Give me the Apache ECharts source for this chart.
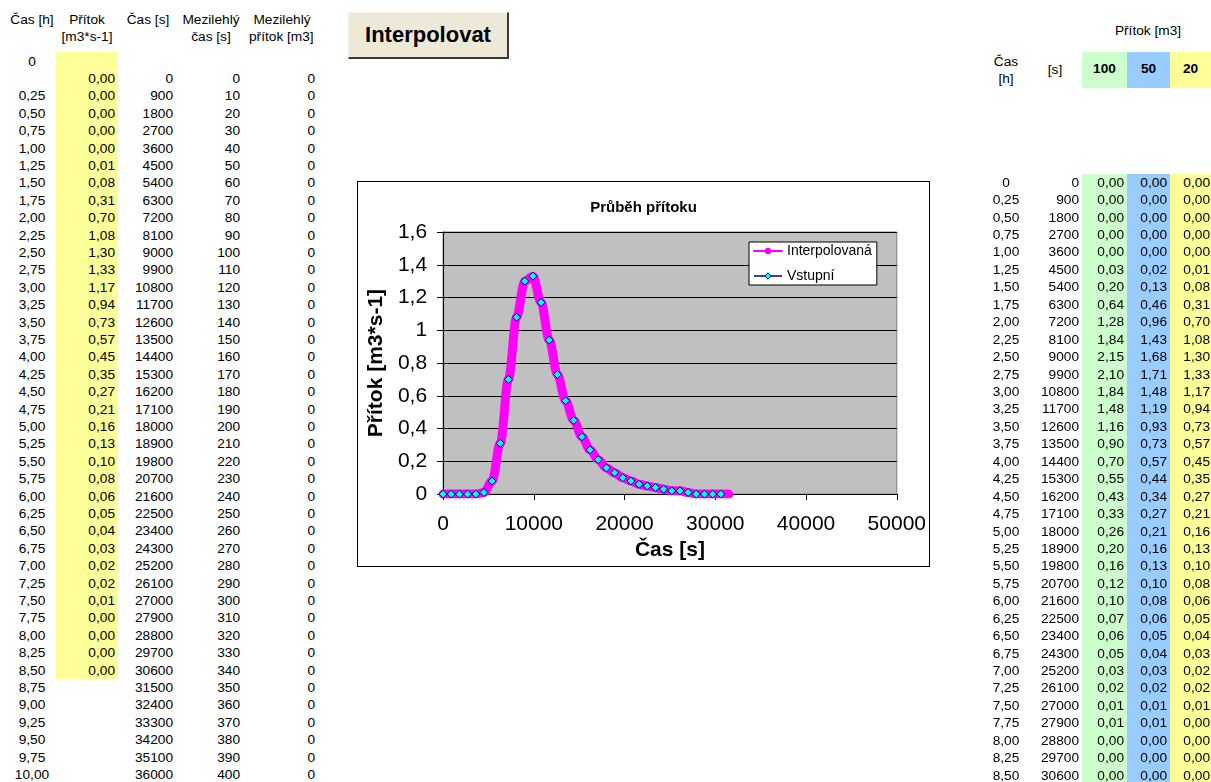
<!DOCTYPE html>
<html><head><meta charset="utf-8">
<script src="https://cdn.jsdelivr.net/npm/echarts@6/dist/echarts.min.js"></script>
<style>
html,body{margin:0;padding:0;}
body{width:1211px;height:782px;position:relative;overflow:hidden;background:#fff;font-family:'Liberation Sans',Arial,sans-serif;font-size:13.7px;color:#000;}
.t{position:absolute;white-space:nowrap;line-height:16px;height:16px;}
.bg{position:absolute;}
#btn{position:absolute;left:348px;top:12px;width:158px;height:44px;background:#ECE9D8;border-top:1px solid #F4F2EA;border-left:1px solid #F4F2EA;border-right:2px solid #3a3a3a;border-bottom:2px solid #3a3a3a;font-weight:bold;font-size:22px;line-height:44px;text-align:center;}
#chartBox{position:absolute;left:357px;top:181px;width:571px;height:384px;border:1px solid #000;background:#fff;}
#chart{width:571px;height:384px;}
</style></head><body>
<div id="btn">Interpolovat</div>
<div id="chartBox"><div id="chart"></div></div>
<script>
// ---- data ----
const leftHours = ['0','0,25','0,50','0,75','1,00','1,25','1,50','1,75','2,00','2,25','2,50','2,75','3,00','3,25','3,50','3,75','4,00','4,25','4,50','4,75','5,00','5,25','5,50','5,75','6,00','6,25','6,50','6,75','7,00','7,25','7,50','7,75','8,00','8,25','8,50','8,75','9,00','9,25','9,50','9,75','10,00'];
const leftSeconds = [0,900,1800,2700,3600,4500,5400,6300,7200,8100,9000,9900,10800,11700,12600,13500,14400,15300,16200,17100,18000,18900,19800,20700,21600,22500,23400,24300,25200,26100,27000,27900,28800,29700,30600,31500,32400,33300,34200,35100,36000];
const inflow = [0,0,0,0,0,0.01,0.08,0.31,0.70,1.08,1.30,1.33,1.17,0.94,0.73,0.57,0.45,0.35,0.27,0.21,0.16,0.13,0.10,0.08,0.06,0.05,0.04,0.03,0.02,0.02,0.01,0,0,0,0];
const midTime = [0,10,20,30,40,50,60,70,80,90,100,110,120,130,140,150,160,170,180,190,200,210,220,230,240,250,260,270,280,290,300,310,320,330,340,350,360,370,380,390,400];
const midFlow = [0,0,0,0,0,0,0,0,0,0,0,0,0,0,0,0,0,0,0,0,0,0,0,0,0,0,0,0,0,0,0,0,0,0,0,0,0,0,0,0,0];
const interpFlow = [0,0,0,0,0,0.01,0.08,0.31,0.70,1.08,1.30,1.33,1.17,0.94,0.73,0.57,0.45,0.35,0.27,0.21,0.16,0.13,0.10,0.08,0.06,0.05,0.04,0.03,0.02,0.02,0.01,0,0,0,0,0];

const rightHours = ['0','0,25','0,50','0,75','1,00','1,25','1,50','1,75','2,00','2,25','2,50','2,75','3,00','3,25','3,50','3,75','4,00','4,25','4,50','4,75','5,00','5,25','5,50','5,75','6,00','6,25','6,50','6,75','7,00','7,25','7,50','7,75','8,00','8,25','8,50'];
const rightSeconds = [0,900,1800,2700,3600,4500,5400,6300,7200,8100,9000,9900,10800,11700,12600,13500,14400,15300,16200,17100,18000,18900,19800,20700,21600,22500,23400,24300,25200,26100,27000,27900,28800,29700,30600];
const flow100 = [0,0,0,0,0,0.03,0.20,0.64,1.28,1.84,2.15,2.10,1.84,1.48,1.16,0.90,0.70,0.55,0.43,0.33,0.26,0.20,0.16,0.12,0.10,0.07,0.06,0.05,0.03,0.02,0.01,0.01,0,0,0];
const flow50 = [0,0,0,0,0,0.02,0.13,0.46,0.96,1.43,1.68,1.71,1.48,1.19,0.93,0.73,0.57,0.44,0.34,0.27,0.21,0.16,0.13,0.10,0.08,0.06,0.05,0.04,0.03,0.02,0.01,0.01,0,0,0];
const flow20 = [0,0,0,0,0,0.01,0.08,0.31,0.70,1.08,1.30,1.33,1.17,0.94,0.73,0.57,0.45,0.35,0.27,0.21,0.16,0.13,0.10,0.08,0.06,0.05,0.04,0.03,0.02,0.02,0.01,0,0,0,0];
const volumes = ['100','50','20'];

// ---- sheet text ----
const W = 1211;
function fmt2(v){ return v.toFixed(2).replace('.', ','); }
function put(text, x, y, align, extra){
  const d = document.createElement('div');
  d.className = 't';
  d.textContent = text;
  d.style.top = (y - 8) + 'px';
  if (align === 'right') { d.style.right = (W - x) + 'px'; }
  else if (align === 'center') { d.style.left = (x - 100) + 'px'; d.style.width = '200px'; d.style.textAlign = 'center'; }
  else { d.style.left = x + 'px'; }
  if (extra) Object.assign(d.style, extra);
  document.body.appendChild(d);
  return d;
}
function rect(x, y, w, h, color){
  const d = document.createElement('div');
  d.className = 'bg';
  Object.assign(d.style, {left:x+'px', top:y+'px', width:w+'px', height:h+'px', background:color});
  document.body.appendChild(d);
}
// left table
const LROW0 = 79, STEP = 17.4;
rect(56, 52, 62, 627, '#FFFF99');
put('Čas [h]', 32, 20, 'center');
put('Přítok', 87, 20, 'center');
put('[m3*s-1]', 87, 37, 'center');
put('Čas [s]', 148, 20, 'center');
put('Mezilehlý', 211, 20, 'center');
put('čas [s]', 211, 37, 'center');
put('Mezilehlý', 282, 20, 'center');
put('přítok [m3]', 249, 37, 'left', {width:'67px', overflow:'hidden'});
leftHours.forEach((h, i) => {
  const row = i === 0 ? -1 : i;
  put(h, 32, LROW0 + row * STEP, 'center');
});
inflow.forEach((v, i) => put(fmt2(v), 115, LROW0 + i * STEP, 'right'));
leftSeconds.forEach((v, i) => put(String(v), 173, LROW0 + i * STEP, 'right'));
midTime.forEach((v, i) => put(String(v), 240, LROW0 + i * STEP, 'right'));
midFlow.forEach((v, i) => put(String(v), 315, LROW0 + i * STEP, 'right'));

// right table
const RROW0 = 182.7, RSTEP = 17.44;
const colX = [[1082,45,'#CCFFCC',1124],[1127,43,'#99CCFF',1167],[1170,41,'#FFFF99',1210]];
colX.forEach(c => { rect(c[0], 52, c[1], 36, c[2]); rect(c[0], 174, c[1], 608, c[2]); });
put('Přítok [m3]', 1148, 31, 'center');
put('Čas', 1006, 62, 'center');
put('[h]', 1006, 79, 'center');
put('[s]', 1055, 70, 'center');
volumes.forEach((v, k) => put(v, colX[k][0] + colX[k][1] / 2, 69, 'center', {fontWeight:'bold'}));
rightHours.forEach((h, i) => put(h, 1006, RROW0 + i * RSTEP, 'center'));
rightSeconds.forEach((v, i) => put(String(v), 1079, RROW0 + i * RSTEP, 'right'));
[flow100, flow50, flow20].forEach((arr, k) => arr.forEach((v, i) => put(fmt2(v), colX[k][3], RROW0 + i * RSTEP, 'right')));

// ---- chart ----
const FONT = 'Liberation Sans';
const chart = echarts.init(document.getElementById('chart'));
const interpData = interpFlow.map((v, i) => [leftSeconds[i], v]);
const inputData = inflow.map((v, i) => [leftSeconds[i], v]);
chart.setOption({
  animation: false,
  textStyle: {fontFamily: FONT, color: '#000'},
  title: {
    text: 'Průběh přítoku', left: 'center', top: 13,
    textStyle: {fontSize: 15, fontWeight: 'bold', color: '#000', fontFamily: FONT}
  },
  legend: {
    orient: 'vertical', left: 391, top: 60,
    backgroundColor: '#fff', borderColor: '#000', borderWidth: 1,
    padding: [2, 5, 2, 4], itemGap: 11, itemWidth: 28, itemHeight: 8,
    textStyle: {fontSize: 14, color: '#000', fontFamily: FONT, lineHeight: 14},
    data: [
      {name: 'Interpolovaná', lineStyle: {width: 2, color: '#FF00FF'}, itemStyle: {color: '#FF00FF'}},
      {name: 'Vstupní', lineStyle: {width: 1.5, color: '#000080', opacity: 1}, itemStyle: {color: '#00FFFF', borderColor: '#000080', borderWidth: 1}}
    ]
  },
  grid: {
    left: 84, top: 50, right: 29, bottom: 69,
    show: true, backgroundColor: '#C0C0C0', borderColor: '#808080', borderWidth: 1
  },
  xAxis: {
    type: 'value', min: 0, max: 50000, interval: 10000,
    name: 'Čas [s]', nameLocation: 'middle', nameGap: 44,
    nameTextStyle: {fontSize: 21, fontWeight: 'bold', color: '#000', fontFamily: FONT},
    axisLine: {show: true, onZero: false, lineStyle: {color: '#000', width: 1}},
    axisTick: {show: true, length: 6, lineStyle: {color: '#000'}},
    axisLabel: {fontSize: 21, color: '#000', margin: 20, fontFamily: FONT,
      formatter: v => String(Math.round(v))},
    splitLine: {show: false}
  },
  yAxis: {
    type: 'value', min: 0, max: 1.6, interval: 0.2,
    name: 'Přítok [m3*s-1]', nameLocation: 'middle', nameGap: 46, nameRotate: 90,
    nameTextStyle: {fontSize: 21, fontWeight: 'bold', color: '#000', fontFamily: FONT},
    axisLine: {show: true, lineStyle: {color: '#000', width: 1}},
    axisTick: {show: true, length: 6, lineStyle: {color: '#000'}},
    axisLabel: {fontSize: 21, color: '#000', margin: 16, fontFamily: FONT,
      formatter: v => String(Math.round(v * 10) / 10).replace('.', ',')},
    splitLine: {show: true, lineStyle: {color: '#000', width: 1}}
  },
  series: [
    {
      name: 'Interpolovaná', type: 'line', data: interpData,
      smooth: 0.35, smoothMonotone: 'x',
      symbol: 'circle', symbolSize: 7, showSymbol: false,
      lineStyle: {color: '#FF00FF', width: 9, cap: 'round', join: 'round'},
      itemStyle: {color: '#FF00FF'}, z: 2
    },
    {
      name: 'Vstupní', type: 'line', data: inputData,
      symbol: 'diamond', symbolSize: 8, showSymbol: true,
      lineStyle: {color: '#000080', width: 1, opacity: 0},
      itemStyle: {color: '#00FFFF', borderColor: '#000080', borderWidth: 1},
      z: 3
    }
  ]
});
</script>
</body></html>
